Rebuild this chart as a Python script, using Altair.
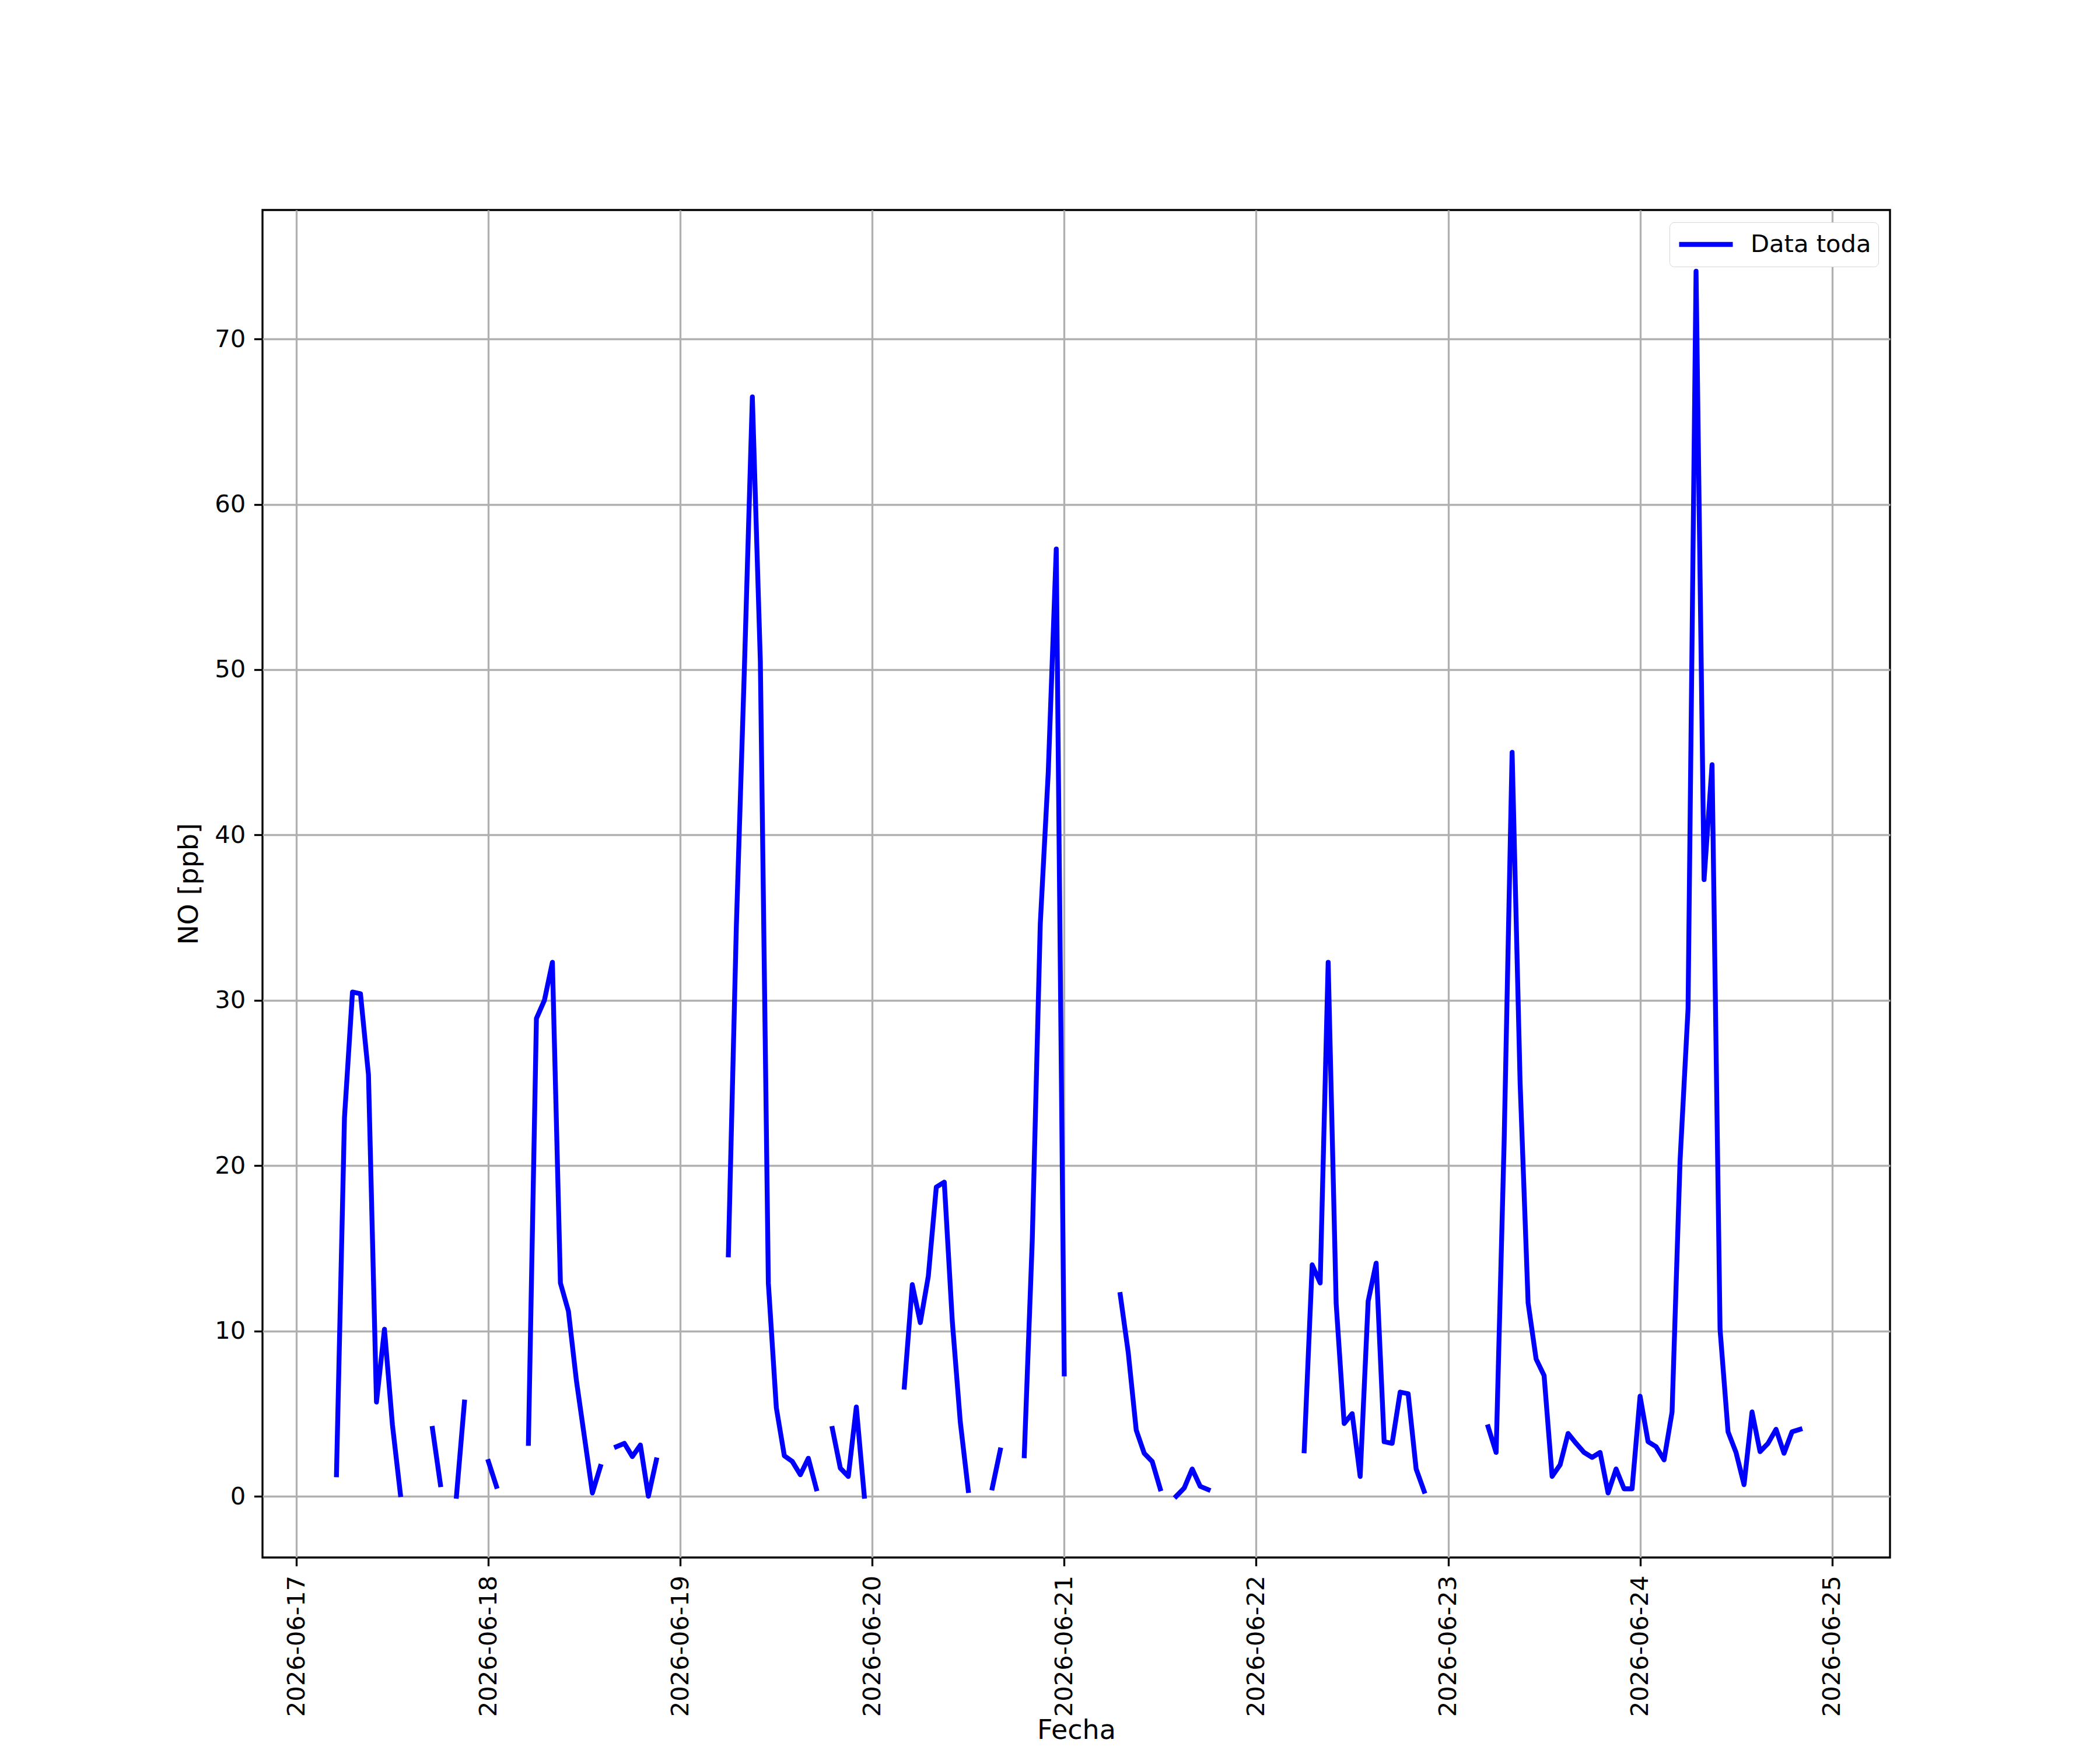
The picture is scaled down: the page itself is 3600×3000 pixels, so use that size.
import altair as alt
import pandas as pd

# Hourly NO values [ppb], hours 00..23 of each day (None = no data)
day17 = [None, None, None, None, None, 1.3, 22.9, 30.5, 30.4, 25.5, 5.7, 10.1,
         4.3, 0.1, None, None, None, 4.1, 0.7, None, 0.0, 5.7, None, None]
day18 = [2.1, 0.6, None, None, None, 3.2, 28.9, 30.0, 32.3, 12.9, 11.2, 7.0,
         3.6, 0.2, 1.8, None, 3.0, 3.2, 2.4, 3.1, 0.0, 2.2, None, None]
day19 = [None, None, None, None, None, None, 14.6, 34.5, 50.0, 66.5, 50.5, 12.9,
         5.35, 2.45, 2.1, 1.3, 2.3, 0.45, None, 4.1, 1.7, 1.2, 5.4, 0.0]
day20 = [None, None, None, None, 6.6, 12.8, 10.5, 13.3, 18.7, 19.0, 10.6, 4.5,
         0.35, None, None, 0.5, 2.8, None, None, 2.45, 15.5, 34.6, 43.8, 57.3]
day21 = [7.4, None, None, None, None, None, None, 12.2, 8.7, 4.0, 2.6, 2.1,
         0.45, None, 0.0, 0.5, 1.65, 0.6, 0.4, None, None, None, None, None]
day22 = [None, None, None, None, None, None, 2.75, 14.0, 12.9, 32.3, 11.65, 4.4,
         5.0, 1.2, 11.8, 14.1, 3.3, 3.2, 6.3, 6.2, 1.65, 0.3, None, None]
day23 = [None, None, None, None, None, 4.2, 2.65, 21.4, 45.0, 25.0, 11.7, 8.3,
         7.3, 1.2, 1.9, 3.8, 3.2, 2.65, 2.35, 2.65, 0.2, 1.65, 0.45, 0.45]
day24 = [6.05, 3.3, 3.0, 2.2, 5.1, 20.3, 29.5, 74.1, 37.3, 44.25, 10.1, 3.9,
         2.65, 0.7, 5.1, 2.7, 3.2, 4.05, 2.6, 3.9, 4.05, None, None, None]

day_numbers = [17, 18, 19, 20, 21, 22, 23, 24]
day_values = [day17, day18, day19, day20, day21, day22, day23, day24]
tick_days = [17, 18, 19, 20, 21, 22, 23, 24, 25]
y_ticks = [0, 10, 20, 30, 40, 50, 60, 70]
series_name = "Data toda"

rows = []
seg = 0
prev_valid = False
for d, vals in zip(day_numbers, day_values):
    for h, v in enumerate(vals):
        if v is None:
            if prev_valid:
                seg += 1
            prev_valid = False
            continue
        rows.append({"Fecha": f"2026-06-{d:02d}T{h:02d}:00:00", "NO": v,
                     "seg": seg, "serie": series_name})
        prev_valid = True
df = pd.DataFrame(rows)

PT = 300 / 72.0  # px per point (300 dpi figure)
W, H = 2790, 2310
FONT = "DejaVu Sans"

x_axis = alt.Axis(
    values=[alt.DateTime(year=2026, month=6, date=d) for d in tick_days],
    format="%Y-%m-%d", labelAngle=270, labelAlign="right", labelBaseline="middle",
    labelFontSize=10 * PT, labelPadding=16, labelColor="black", labelFont=FONT,
    labelOverlap=False, labelFlush=False, labelLimit=1000,
    tickSize=3.5 * PT, tickWidth=0.8 * PT, tickColor="black",
    grid=True, gridColor="#b0b0b0", gridWidth=0.8 * PT, domain=False,
    title="Fecha", titleFontSize=46, titleFontWeight="normal", titleColor="black",
    titleFont=FONT, titleX=W / 2, titleY=310, titleBaseline="alphabetic",
    titleAlign="center", titleLimit=1000,
)
y_axis = alt.Axis(
    values=y_ticks, labelFontSize=10 * PT, labelPadding=3.5 * PT, labelColor="black",
    labelFont=FONT, labelLimit=1000, tickSize=3.5 * PT, tickWidth=0.8 * PT,
    tickColor="black",
    grid=True, gridColor="#b0b0b0", gridWidth=0.8 * PT, domain=False,
    title="NO [ppb]", titleFontSize=46, titleFontWeight="normal", titleColor="black",
    titleFont=FONT, titleAngle=270, titleX=-112, titleY=H / 2,
    titleBaseline="alphabetic", titleAlign="center", titleLimit=1000,
)

legend = alt.Legend(
    title=None, orient="none", legendX=2412, legendY=21, direction="vertical",
    symbolType="stroke", symbolSize=92 * 92, symbolStrokeWidth=2 * PT,
    symbolStrokeColor="#0000ff", clipHeight=52,
    labelFontSize=10 * PT, labelFont=FONT, labelColor="black", labelOffset=26,
    labelLimit=1000,
    padding=12, fillColor="white", strokeColor="#d6d6d6",
    cornerRadius=8,
)

chart = alt.Chart(df).mark_line(
    strokeWidth=2 * PT, strokeCap="square", strokeJoin="round"
).encode(
    x=alt.X("Fecha:T", axis=x_axis,
            scale=alt.Scale(domain=[
                alt.DateTime(year=2026, month=6, date=16, hours=19, minutes=45),
                alt.DateTime(year=2026, month=6, date=25, hours=7, minutes=15)],
                nice=False)),
    y=alt.Y("NO:Q", axis=y_axis,
            scale=alt.Scale(domain=[-3.705, 77.805], nice=False, zero=False)),
    color=alt.Color("serie:N", scale=alt.Scale(domain=[series_name], range=["#0000ff"]),
                    legend=legend),
    detail="seg:N",
).properties(
    width=W, height=H,
    autosize=alt.AutoSizeParams(type="none"),
    padding={"left": 442, "top": 352, "right": 352, "bottom": 322},
    background="white",
).configure(
    font=FONT
).configure_view(
    stroke="black", strokeWidth=0.8 * PT
)

chart.save("out.html", embed_options={"renderer": "svg", "actions": False})
